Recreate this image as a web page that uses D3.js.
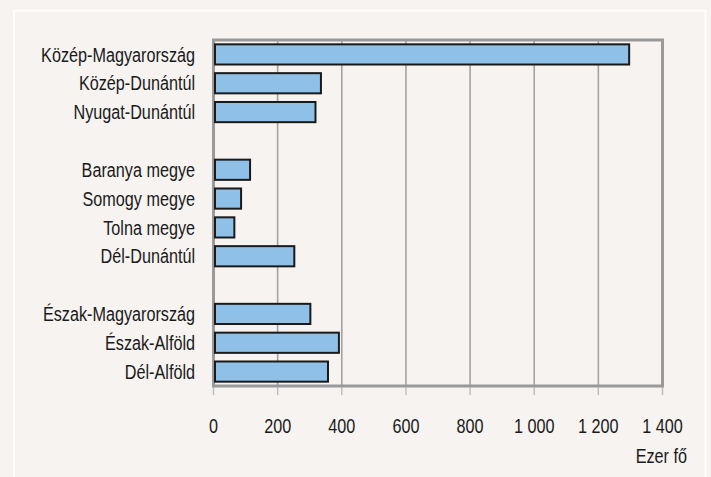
<!DOCTYPE html>
<html>
<head>
<meta charset="utf-8">
<script src="https://cdn.jsdelivr.net/npm/d3@7"></script>
<style>
  html, body { margin: 0; padding: 0; background: #f6f3f0; }
  svg { display: block; }
</style>
</head>
<body>
<script>
// Data
const categories = ["Közép-Magyarország", "Közép-Dunántúl", "Nyugat-Dunántúl", "",
  "Baranya megye", "Somogy megye", "Tolna megye", "Dél-Dunántúl", "",
  "Észak-Magyarország", "Észak-Alföld", "Dél-Alföld"];
const values = [1296, 335, 318, null, 114, 86, 65, 252, null, 302, 391, 357];
const tickValues = [0, 200, 400, 600, 800, 1000, 1200, 1400];
const tickLabels = ["0", "200", "400", "600", "800", "1 000", "1 200", "1 400"];
const unitLabel = "Ezer fő";

(function () {
const W = 711, H = 477;
const font = "'Liberation Sans Narrow', 'Arial Narrow', 'Liberation Sans', Arial, sans-serif";
const fs = 20, sx = 0.81;

const svg = d3.select("body").append("svg").attr("width", W).attr("height", H);

svg.append("rect").attr("width", W).attr("height", H).attr("fill", "#f6f3f0");
// white panel outline
svg.append("rect").attr("x", 14).attr("y", 10.5).attr("width", 691.5).attr("height", 480)
  .attr("fill", "none").attr("stroke", "#ffffff").attr("stroke-width", 1.8);

const x = d3.scaleLinear().domain([0, 1400]).range([213.5, 662.5]);
const y = d3.scaleBand().domain(d3.range(categories.length)).range([40, 386])
  .paddingInner(0.3).paddingOuter(0.15);

const plotTop = 40, plotBottom = 386;

// gridlines
svg.append("g").selectAll("line").data(tickValues.slice(1, -1)).join("line")
  .attr("x1", d => x(d)).attr("x2", d => x(d))
  .attr("y1", plotTop).attr("y2", plotBottom)
  .attr("stroke", "#a3a3a3").attr("stroke-width", 1.6);

// tick marks below axis
svg.append("g").selectAll("line").data(tickValues).join("line")
  .attr("x1", d => x(d)).attr("x2", d => x(d))
  .attr("y1", plotBottom).attr("y2", plotBottom + 9)
  .attr("stroke", "#bdbdbd").attr("stroke-width", 1.4);

// frame
svg.append("rect").attr("x", x(0)).attr("y", plotTop)
  .attr("width", x(1400) - x(0)).attr("height", plotBottom - plotTop)
  .attr("fill", "none").attr("stroke", "#9a9a9a").attr("stroke-width", 3);

// bars
const idx = d3.range(categories.length).filter(i => values[i] !== null);
svg.append("g").selectAll("rect").data(idx).join("rect")
  .attr("x", x(0) + 1.5)
  .attr("y", i => y(i))
  .attr("width", i => x(values[i]) - x(0) - 1.5)
  .attr("height", y.bandwidth())
  .attr("fill", "#8ec0e8")
  .attr("stroke", "#1a1a1a").attr("stroke-width", 2);

function narrowText(sel) {
  sel.attr("font-family", font).attr("font-size", fs)
    .attr("fill", "#1a1a1a").attr("dy", "0.36em");
}

// category labels
svg.append("g").selectAll("text").data(idx).join("text")
  .attr("transform", i => `translate(195,${y(i) + y.bandwidth() / 2}) scale(${sx},1)`)
  .attr("text-anchor", "end")
  .call(narrowText)
  .text(i => categories[i]);

// tick labels
svg.append("g").selectAll("text").data(tickValues).join("text")
  .attr("transform", d => `translate(${x(d)},426) scale(${sx},1)`)
  .attr("text-anchor", "middle")
  .call(narrowText)
  .text((d, i) => tickLabels[i]);

svg.append("text")
  .attr("transform", `translate(687,456) scale(${sx},1)`)
  .attr("text-anchor", "end")
  .call(narrowText)
  .text(unitLabel);
})();
</script>
</body>
</html>
